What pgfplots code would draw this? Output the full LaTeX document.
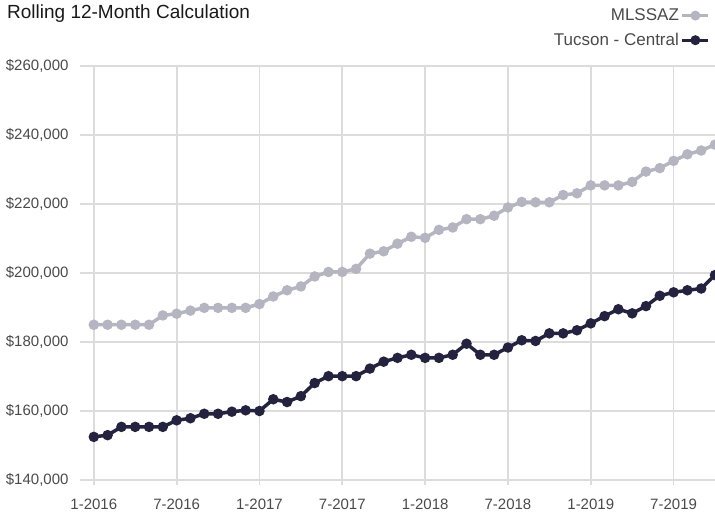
\documentclass[border=0pt]{standalone}
\usepackage{pgfplots}
\pgfplotsset{compat=1.18}
\usepackage{fontspec}
\setmainfont{Liberation Sans}
\definecolor{mlsgray}{HTML}{B5B4C1}
\definecolor{tucnavy}{HTML}{23233F}
\definecolor{gridgray}{HTML}{DCDCDC}
\definecolor{labgray}{HTML}{4A4A4A}
\pgfplotstableread{
i mls tuc
0 185.0 152.5
1 185.0 153.0
2 185.0 155.4
3 185.0 155.4
4 185.0 155.4
5 187.7 155.4
6 188.2 157.3
7 189.1 157.9
8 189.9 159.2
9 189.9 159.2
10 189.9 159.8
11 189.9 160.2
12 191.0 160.0
13 193.2 163.4
14 195.0 162.6
15 196.1 164.3
16 199.0 168.1
17 200.3 170.1
18 200.3 170.1
19 201.2 170.1
20 205.6 172.3
21 206.3 174.3
22 208.5 175.4
23 210.5 176.3
24 210.2 175.4
25 212.5 175.4
26 213.2 176.3
27 215.6 179.5
28 215.6 176.3
29 216.6 176.3
30 219.0 178.4
31 220.6 180.5
32 220.5 180.3
33 220.5 182.5
34 222.6 182.5
35 223.1 183.4
36 225.4 185.4
37 225.4 187.5
38 225.4 189.5
39 226.4 188.3
40 229.4 190.4
41 230.4 193.4
42 232.5 194.4
43 234.4 195.0
44 235.5 195.5
45 237.2 199.4
}\datatable
\begin{document}
\begin{tikzpicture}
\useasboundingbox (0,0) rectangle (715pt,512pt);
\node[anchor=base west, font=\fontsize{19}{22}\selectfont, text=black!90, inner sep=0pt] at (7pt,493.7pt) {Rolling 12-Month Calculation};
\begin{axis}[
  at={(80pt,32pt)}, anchor=south west,
  scale only axis, width=635pt, height=414pt,
  xmin=-1, xmax=45, ymin=140, ymax=260,
  separate axis lines,
  axis x line*=bottom, axis y line*=left,
  y axis line style={draw=none},
  x axis line style={draw=gridgray, line width=2.5pt, -},
  xtick={0,6,12,18,24,30,36,42},
  xticklabels={1-2016,7-2016,1-2017,7-2017,1-2018,7-2018,1-2019,7-2019},
  ytick={140,160,180,200,220,240,260},
  yticklabels={{\$140,000},{\$160,000},{\$180,000},{\$200,000},{\$220,000},{\$240,000},{\$260,000}},
  grid=major,
  major grid style={draw=gridgray, line width=1.8pt},
  tick align=outside,
  xtick style={draw=gridgray, line width=1.8pt},
  ytick style={draw=none},
  major tick length=5pt,
  tick label style={font=\fontsize{15}{18}\selectfont, text=labgray},
  xticklabel style={yshift=-10pt},
  yticklabel style={xshift=-3pt},
  legend plot pos=right,
  legend cell align=right,
  legend image code/.code={\draw[mark repeat=2,mark phase=2,#1,line width=3pt] plot coordinates {(0pt,0pt) (13pt,0pt) (26pt,0pt)};},
  legend style={at={(0.997,1.148)}, anchor=north east, draw=none, fill=none,
    font=\fontsize{17}{20}\selectfont, text=labgray, row sep=7pt,
    /tikz/every even column/.append style={column sep=3pt}},
  clip=true,
]
\addplot[color=mlsgray, line width=3.5pt, mark=*, mark size=3.4pt, mark options={solid}] table[x=i, y=mls] {\datatable};
\addlegendentry{MLSSAZ}
\addplot[color=tucnavy, line width=3.5pt, mark=*, mark size=3.4pt, mark options={solid}] table[x=i, y=tuc] {\datatable};
\addlegendentry{Tucson - Central}
\end{axis}
\end{tikzpicture}
\end{document}
